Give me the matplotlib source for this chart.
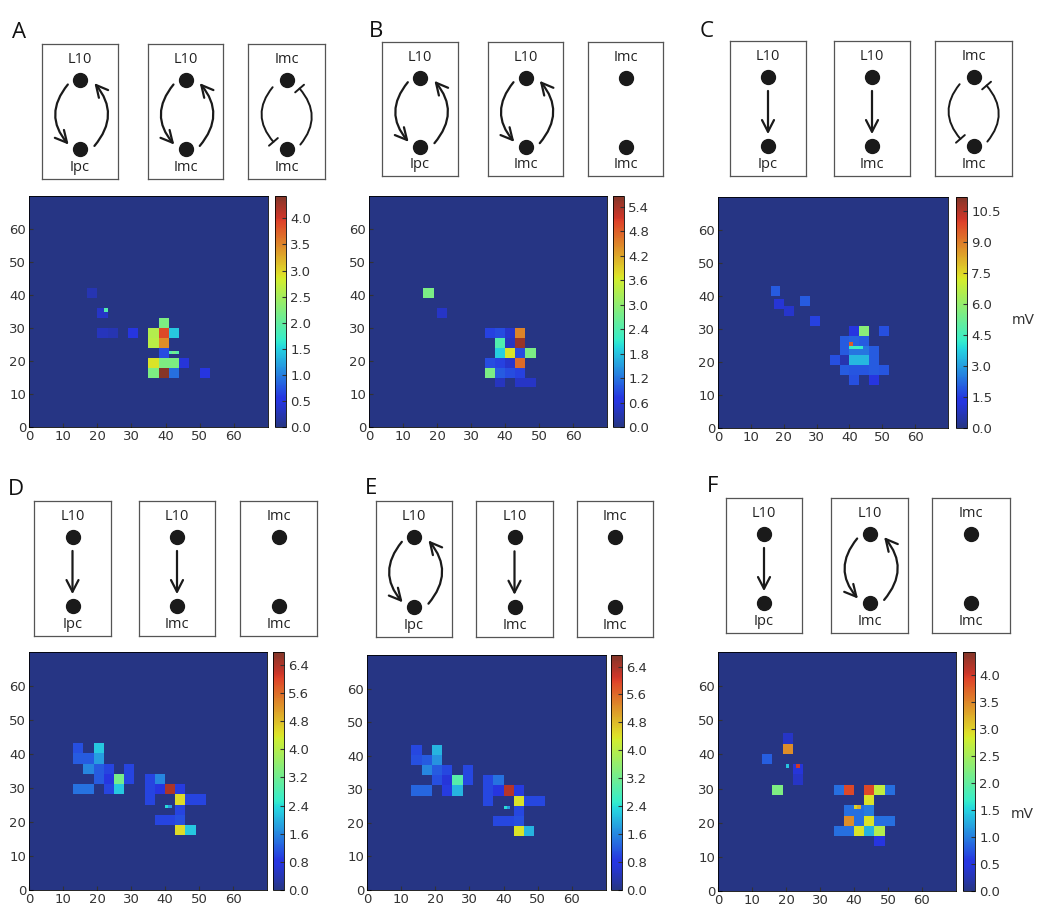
import numpy as np
import matplotlib as mpl
mpl.use('Agg')
import matplotlib.pyplot as plt
from matplotlib.colors import ListedColormap

W, H = 1040, 910

# --- heatmap data: 3x3 blocks (lower-left x, y in grid units) and values (mV)
A_x = [38, 35, 38, 41, 35, 38, 38, 35, 38, 41, 44, 35, 38, 41, 50, 20, 23, 29, 20, 17]
A_y = [30, 27, 27, 27, 24, 24, 21, 18, 18, 18, 18, 15, 15, 15, 15, 27, 27, 27, 33, 39]
A_v = [2.2, 2.6, 3.9, 1.45, 2.65, 3.45, 0.7, 2.9, 2.2, 2.2, 0.45, 2.2, 4.4, 0.9, 0.55, 0.3, 0.25, 0.5, 0.35, 0.25]
A_dx = [41, 42, 43, 22]
A_dy = [22, 22, 22, 35]
A_dv = [1.9, 2.1, 1.9, 1.9]

B_x = [16, 20, 34, 37, 40, 43, 37, 40, 43, 37, 40, 43, 46, 34, 37, 40, 43, 34, 37, 40, 43, 37, 43, 46]
B_y = [39, 33, 27, 27, 27, 27, 24, 24, 24, 21, 21, 21, 21, 18, 18, 18, 18, 15, 15, 15, 15, 12, 12, 12]
B_v = [2.8, 0.45, 0.8, 0.9, 0.5, 4.5, 2.4, 0.4, 5.5, 1.9, 3.7, 0.9, 2.8, 0.9, 0.8, 0.5, 4.7, 2.8, 1.0, 0.9, 0.8, 0.4, 0.45, 0.45]
B_dx = []
B_dy = []
B_dv = []

C_x = [16, 17, 20, 25, 28, 40, 43, 49, 37, 40, 43, 37, 40, 43, 46, 34, 37, 40, 43, 46, 37, 40, 43, 46, 49, 40, 46]
C_y = [40, 36, 34, 37, 31, 28, 28, 28, 25, 25, 25, 22, 22, 22, 22, 19, 19, 19, 19, 19, 16, 16, 16, 16, 16, 13, 13]
C_v = [2.0, 1.1, 1.0, 2.0, 1.6, 1.3, 5.8, 1.8, 2.0, 2.1, 2.0, 2.0, 2.4, 2.4, 2.0, 1.8, 0.6, 3.4, 3.4, 2.0, 2.0, 1.9, 1.9, 2.0, 1.9, 1.8, 1.3]
C_dx = [40, 41, 42, 43, 40]
C_dy = [24, 24, 24, 24, 25]
C_dv = [4.2, 4.4, 4.4, 4.2, 9.5]

D_x = [13, 19, 13, 16, 19, 16, 19, 22, 28, 19, 22, 25, 28, 13, 16, 22, 25, 34, 37, 34, 37, 40, 43, 34, 43, 46, 49, 43, 37, 40, 43, 43, 46]
D_y = [40, 40, 37, 37, 37, 34, 34, 34, 34, 31, 31, 31, 31, 28, 28, 28, 28, 31, 31, 28, 28, 28, 28, 25, 25, 25, 25, 22, 19, 19, 19, 16, 16]
D_v = [1.1, 2.2, 1.2, 1.2, 1.8, 1.6, 1.2, 1.0, 1.0, 1.2, 0.8, 3.3, 1.0, 1.4, 1.4, 1.0, 2.2, 1.0, 1.6, 1.0, 0.8, 6.4, 0.9, 1.0, 4.5, 1.0, 1.0, 1.0, 1.0, 1.0, 1.1, 4.5, 2.2]
D_dx = [40, 41]
D_dy = [24, 24]
D_dv = [2.4, 1.8]

E_x = [13, 19, 13, 16, 19, 16, 19, 22, 28, 19, 22, 25, 28, 13, 16, 22, 25, 34, 37, 34, 37, 40, 43, 34, 43, 46, 49, 43, 37, 40, 43, 43, 46]
E_y = [40, 40, 37, 37, 37, 34, 34, 34, 34, 31, 31, 31, 31, 28, 28, 28, 28, 31, 31, 28, 28, 28, 28, 25, 25, 25, 25, 22, 19, 19, 19, 16, 16]
E_v = [1.0, 2.0, 1.1, 1.2, 1.7, 1.6, 1.2, 1.0, 1.0, 1.1, 0.7, 2.9, 1.0, 1.3, 1.3, 0.9, 2.0, 1.0, 1.4, 1.0, 0.8, 6.3, 0.9, 1.0, 4.4, 1.0, 1.0, 1.0, 1.0, 1.0, 1.1, 4.4, 2.0]
E_dx = [40, 41]
E_dy = [24, 24]
E_dv = [2.4, 1.8]

F_x = [19, 13, 19, 22, 22, 16, 34, 37, 43, 46, 49, 43, 37, 40, 43, 37, 40, 43, 46, 49, 34, 37, 40, 43, 46, 46]
F_y = [40, 37, 43, 34, 31, 28, 28, 28, 28, 28, 28, 25, 22, 22, 22, 19, 19, 19, 19, 19, 16, 16, 16, 16, 16, 13]
F_v = [3.45, 0.8, 0.35, 0.45, 0.35, 2.2, 0.9, 3.9, 3.9, 2.7, 0.9, 2.9, 0.9, 0.9, 1.0, 3.45, 0.9, 2.9, 0.9, 0.9, 0.9, 0.9, 2.9, 1.3, 2.6, 0.5]
F_dx = [20, 23, 40, 41]
F_dy = [36, 36, 24, 24]
F_dv = [1.4, 4.0, 3.0, 3.2]

vmaxes = {'A': 4.43, 'B': 5.67, 'C': 11.2, 'D': 6.76, 'E': 6.73, 'F': 4.42}
cticks = {'A': np.arange(0, 4.01, 0.5), 'B': np.arange(0, 5.41, 0.6), 'C': np.arange(0, 10.51, 1.5),
          'D': np.arange(0, 6.41, 0.8), 'E': np.arange(0, 6.41, 0.8), 'F': np.arange(0, 4.01, 0.5)}

# circuit diagrams: (top label, bottom label, connection)
circuits = {
    'A': [('L10', 'Ipc', 'loop'), ('L10', 'Imc', 'loop'), ('Imc', 'Imc', 'inhib')],
    'B': [('L10', 'Ipc', 'loop'), ('L10', 'Imc', 'loop'), ('Imc', 'Imc', 'none')],
    'C': [('L10', 'Ipc', 'down'), ('L10', 'Imc', 'down'), ('Imc', 'Imc', 'inhib')],
    'D': [('L10', 'Ipc', 'down'), ('L10', 'Imc', 'down'), ('Imc', 'Imc', 'none')],
    'E': [('L10', 'Ipc', 'loop'), ('L10', 'Imc', 'down'), ('Imc', 'Imc', 'none')],
    'F': [('L10', 'Ipc', 'down'), ('L10', 'Imc', 'loop'), ('Imc', 'Imc', 'none')],
}

data = {
    'A': (A_x, A_y, A_v, A_dx, A_dy, A_dv),
    'B': (B_x, B_y, B_v, B_dx, B_dy, B_dv),
    'C': (C_x, C_y, C_v, C_dx, C_dy, C_dv),
    'D': (D_x, D_y, D_v, D_dx, D_dy, D_dv),
    'E': (E_x, E_y, E_v, E_dx, E_dy, E_dv),
    'F': (F_x, F_y, F_v, F_dx, F_dy, F_dv),
}

# layout in pixels (x, y_top, w, h)
heat_pos = {'A': (29, 196, 239, 231), 'B': (369, 196, 238, 231), 'C': (718, 197, 230, 231),
            'D': (29, 652, 238, 238), 'E': (367, 655, 239, 235), 'F': (718, 652, 238, 239)}
cbar_pos = {'A': (275, 196, 11, 231), 'B': (613, 196, 11, 231), 'C': (956, 197, 11, 231),
            'D': (273, 652, 11, 238), 'E': (611, 655, 11, 235), 'F': (963, 652, 12, 239)}
box_pos = {
    'A': [(42, 44, 76, 135), (148, 44, 75, 135), (248, 44, 77, 135)],
    'B': [(382, 42, 76, 134), (488, 42, 75, 134), (588, 42, 75, 134)],
    'C': [(730, 41, 76, 135), (834, 41, 76, 135), (935, 41, 77, 135)],
    'D': [(34, 501, 77, 135), (139, 501, 76, 135), (240, 501, 77, 135)],
    'E': [(376, 501, 76, 136), (476, 501, 77, 136), (577, 501, 76, 136)],
    'F': [(726, 498, 76, 135), (831, 498, 77, 135), (932, 498, 78, 135)],
}
letter_pos = {'A': (12, 38), 'B': (369, 37), 'C': (700, 37), 'D': (8, 495), 'E': (365, 494), 'F': (707, 492)}


def rect(x, y, w, h):
    return [x / W, 1 - (y + h) / H, w / W, h / H]


# jet, faded like the printed figure
jet = plt.get_cmap('jet')(np.linspace(0, 1, 256))[:, :3]
faded = jet * 0.72 + np.array([0.15, 0.21, 0.16])
cmap = ListedColormap(np.clip(faded, 0, 1))

LBL = ['Open Sans', 'DejaVu Sans']
INK = '#1a1a1a'

fig = plt.figure(figsize=(W / 100, H / 100), dpi=100)


def arrow(ax, p0, p1, style, rad=0.0, lw=1.6):
    ax.annotate('', xy=p1, xytext=p0, xycoords='axes fraction', textcoords='axes fraction',
                arrowprops=dict(arrowstyle=style, connectionstyle='arc3,rad=%s' % rad,
                                lw=lw, color=INK, shrinkA=0, shrinkB=0, mutation_scale=12))


for key in ['A', 'B', 'C', 'D', 'E', 'F']:
    # diagrams
    for (top, bot, kind), bp in zip(circuits[key], box_pos[key]):
        bx = fig.add_axes(rect(*bp))
        bx.set_xlim(0, 1)
        bx.set_ylim(0, 1)
        bx.set_xticks([])
        bx.set_yticks([])
        for s in bx.spines.values():
            s.set_color('#555555')
            s.set_linewidth(0.9)
        bx.scatter([0.5, 0.5], [0.735, 0.22], s=100, color=INK, zorder=3)
        bx.text(0.5, 0.885, top, ha='center', va='center', fontsize=10.5, family=LBL, color='#222222')
        bx.text(0.5, 0.085, bot, ha='center', va='center', fontsize=10.5, family=LBL, color='#222222')
        if kind == 'loop':
            arrow(bx, (0.34, 0.70), (0.35, 0.255), '->,head_length=0.7,head_width=0.36', 0.42)
            arrow(bx, (0.69, 0.245), (0.69, 0.71), '->,head_length=0.7,head_width=0.36', 0.42)
        elif kind == 'inhib':
            arrow(bx, (0.32, 0.68), (0.33, 0.275), '-[,widthB=0.35,lengthB=0', 0.42, 1.4)
            arrow(bx, (0.68, 0.255), (0.67, 0.67), '-[,widthB=0.35,lengthB=0', 0.42, 1.4)
        elif kind == 'down':
            arrow(bx, (0.5, 0.63), (0.5, 0.31), '->,head_length=0.7,head_width=0.36', 0.0)

    # heatmap
    xs, ys, vs, dxs, dys, dvs = data[key]
    z = np.zeros((70, 70))
    for x, y, v in zip(xs, ys, vs):
        z[y:y + 3, x:x + 3] = v
    for x, y, v in zip(dxs, dys, dvs):
        z[y, x] = v
    ax = fig.add_axes(rect(*heat_pos[key]))
    im = ax.imshow(z, origin='lower', extent=(0, 70, 0, 70), cmap=cmap, vmin=0, vmax=vmaxes[key],
                   interpolation='nearest', aspect='auto')
    ax.set_xticks(range(0, 70, 10))
    ax.set_yticks(range(0, 70, 10))
    ax.tick_params(labelsize=9.5, colors='#333333', direction='in', length=3, pad=2)
    for s in ax.spines.values():
        s.set_linewidth(0.6)

    cax = fig.add_axes(rect(*cbar_pos[key]))
    cb = fig.colorbar(im, cax=cax, ticks=cticks[key], format='%.1f')
    cb.outline.set_linewidth(0.6)
    cax.tick_params(labelsize=9.5, colors='#333333', direction='in', length=3, pad=3)

    lx, ly = letter_pos[key]
    fig.text(lx / W, 1 - ly / H, key, fontsize=16, family=LBL, color='#111111', va='baseline')

fig.text(1012 / W, 1 - 320 / H, 'mV', fontsize=10, color='#333333', va='center')
fig.text(1011 / W, 1 - 814 / H, 'mV', fontsize=10, color='#333333', va='center')

fig.savefig('out.png', dpi=100)
